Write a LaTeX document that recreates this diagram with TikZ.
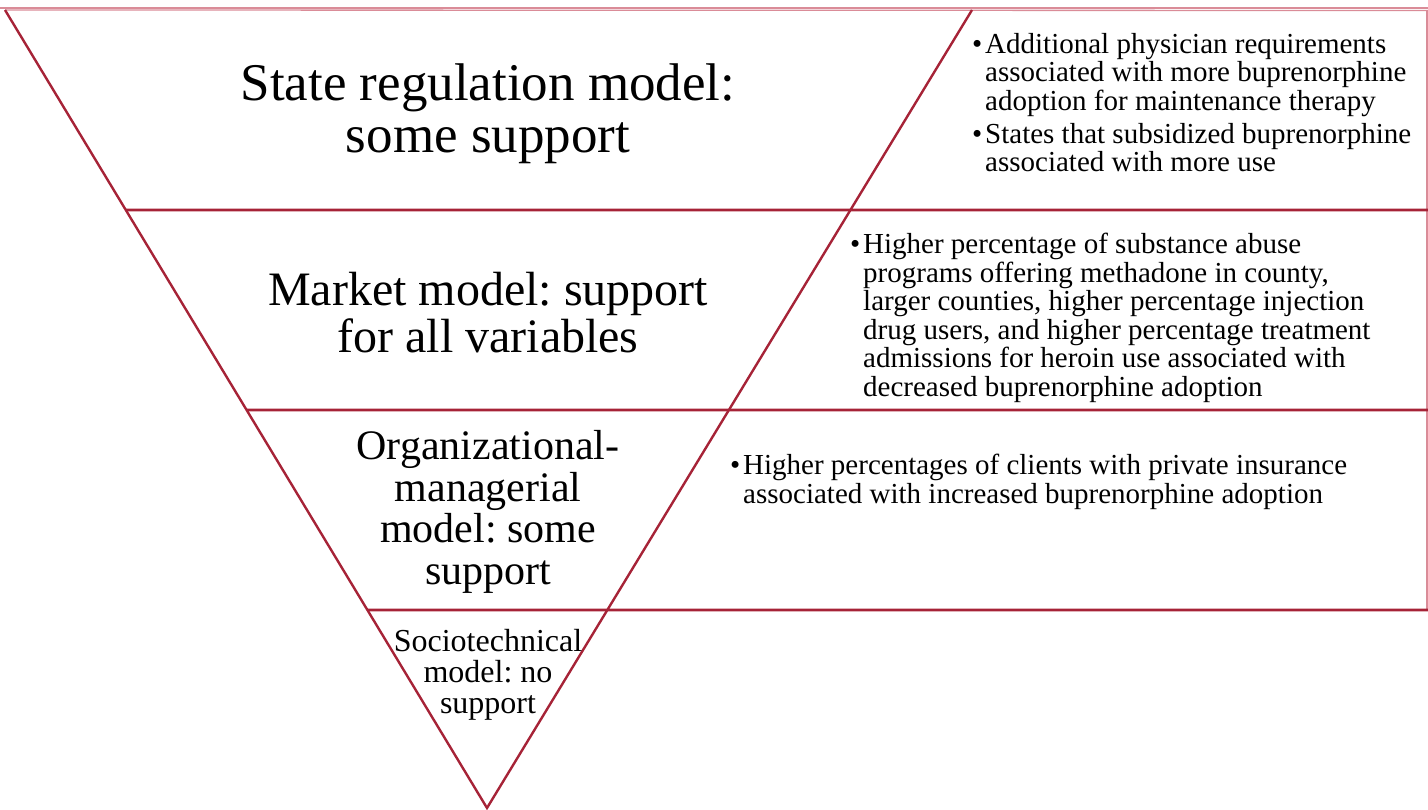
\documentclass[tikz,border=0pt]{standalone}
\usepackage{fontspec}
\setmainfont{Liberation Serif}
\usetikzlibrary{calc}
\usetikzlibrary{positioning}
\frenchspacing

\definecolor{tierred}{RGB}{166,35,55}
\definecolor{rulepink}{RGB}{218,140,152}

\newcommand{\bul}{\makebox[13pt][l]{\textbullet}}
\newcommand{\hang}{\hspace*{13pt}}

\begin{document}
\begin{tikzpicture}[x=1pt, y=-1pt, inner sep=0pt,
    tier/.style={draw=tierred, line width=2.6pt},
    edge/.style={draw=tierred, line width=2.4pt, line join=miter},
    thin_rule/.style={draw=rulepink, line width=1.3pt},
    model/.style={align=center},
    finding/.style={align=left, anchor=north west, font=\fontsize{29}{28.5}\selectfont}]
        \useasboundingbox (0,0) rectangle (1428,810);

        \coordinate (top_left) at (5,10);
        \coordinate (top_right) at (972,10);
        \coordinate (apex) at (487,808);

        % frame lines at the top and right
        \draw[thin_rule] (0,8) -- (1428,8);
        \draw[thin_rule] (top_left) -- (1428,10.5);
        \draw[thin_rule] (1427,10) -- (1427,610);

        % tier lines, running out to the right edge
        \draw[tier] ($(top_left)!{200/798}!(apex)$) -- (1428,210);
        \draw[tier] ($(top_left)!{400/798}!(apex)$) -- (1428,410);
        \draw[tier] ($(top_left)!{600/798}!(apex)$) -- (1428,610);

        \draw[edge] (top_left) -- (apex) -- (top_right);

        \node[model, font=\fontsize{53}{52}\selectfont] (state_model) at (488,114) {State regulation model:\\some support};
        \node[model, font=\fontsize{48}{47}\selectfont] (market_model) at (488,313) {Market model: support\\for all variables};
        \node[model, font=\fontsize{42}{41.5}\selectfont] (org_model) at (488,512) {Organizational-\\managerial\\model: some\\support};
        \node[model, font=\fontsize{32}{31}\selectfont] (socio_model) at (488,675) {Sociotechnical\\model: no\\support};

        \node[finding] (state_findings) at (972,33) {\bul Additional physician requirements\\
            \hang associated with more buprenorphine\\
            \hang adoption for maintenance therapy\\[4.5pt]
            \bul States that subsidized buprenorphine\\
            \hang associated with more use};
        \node[finding] (market_findings) at (850,233) {\bul Higher percentage of substance abuse\\
            \hang programs offering methadone in county,\\
            \hang larger counties, higher percentage injection\\
            \hang drug users, and higher percentage treatment\\
            \hang admissions for heroin use associated with\\
            \hang decreased buprenorphine adoption};
        \node[finding] (org_findings) at (730,454) {\bul Higher percentages of clients with private insurance\\
            \hang associated with increased buprenorphine adoption};
\end{tikzpicture}
\end{document}
